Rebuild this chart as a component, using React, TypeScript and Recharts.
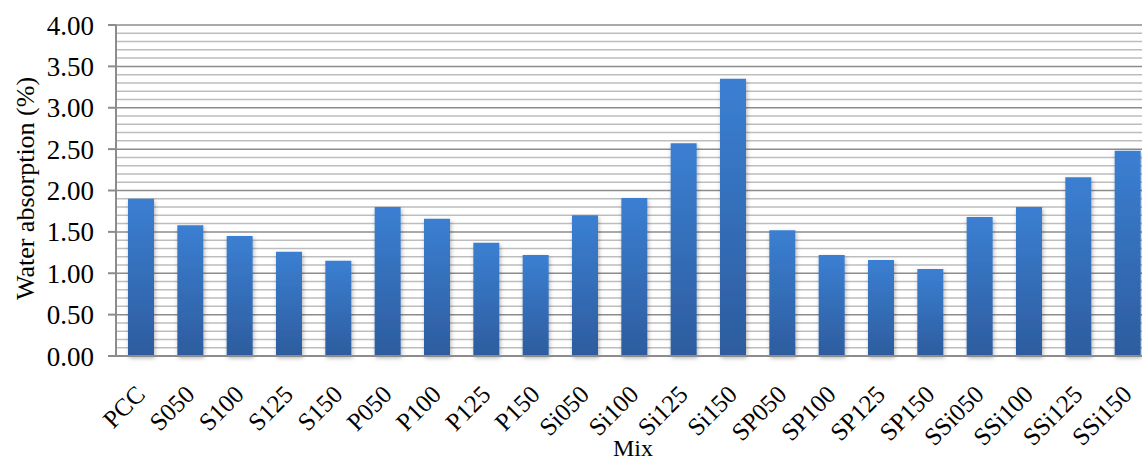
import { BarChart, Bar, XAxis, YAxis, CartesianGrid } from 'recharts';

const mixes = [
  'PCC', 'S050', 'S100', 'S125', 'S150', 'P050', 'P100', 'P125', 'P150',
  'Si050', 'Si100', 'Si125', 'Si150', 'SP050', 'SP100', 'SP125', 'SP150',
  'SSi050', 'SSi100', 'SSi125', 'SSi150',
];

const absorption = [
  1.90, 1.58, 1.45, 1.26, 1.15, 1.80, 1.66, 1.37, 1.22,
  1.70, 1.91, 2.57, 3.35, 1.52, 1.22, 1.16, 1.05,
  1.68, 1.80, 2.16, 2.48,
];

const majorTicks = [0, 0.5, 1, 1.5, 2, 2.5, 3, 3.5, 4];
const minorTicks = [
  0.1, 0.2, 0.3, 0.4, 0.6, 0.7, 0.8, 0.9, 1.1, 1.2, 1.3, 1.4, 1.6, 1.7, 1.8, 1.9,
  2.1, 2.2, 2.3, 2.4, 2.6, 2.7, 2.8, 2.9, 3.1, 3.2, 3.3, 3.4, 3.6, 3.7, 3.8, 3.9,
];

const data = mixes.map((mix, i) => ({ mix, value: absorption[i] }));

const font = '"Liberation Serif", "Times New Roman", serif';
const yMin = majorTicks[0];
const yMax = majorTicks[majorTicks.length - 1];

// minor gridlines sit on the same linear 0..4 scale as the y axis
const minorLines = ({ yAxis, offset }: any) => {
  if (yAxis && typeof yAxis.scale === 'function') return minorTicks.map((t) => yAxis.scale(t));
  return minorTicks.map((t) => offset.top + offset.height * (1 - (t - yMin) / (yMax - yMin)));
};

const MixTick = ({ x, y, payload }: any) => {
  const ax = x + 6;
  const ay = y + 32;
  return (
    <text
      x={ax}
      y={ay}
      textAnchor="end"
      fontFamily={font}
      fontSize={25}
      fill="#000"
      transform={`rotate(-45, ${ax}, ${ay})`}
    >
      {payload.value}
    </text>
  );
};

const YTitle = ({ viewBox }: any) => {
  const cx = 25;
  const cy = viewBox.y + viewBox.height / 2 - 2;
  return (
    <text
      x={cx}
      y={cy}
      textAnchor="middle"
      dominantBaseline="central"
      fontFamily={font}
      fontSize={26}
      fill="#000"
      transform={`rotate(-90, ${cx}, ${cy})`}
    >
      Water absorption (%)
    </text>
  );
};

const MixTitle = ({ viewBox }: any) => (
  <text x={viewBox.x + viewBox.width / 2 - 1} y={456} textAnchor="middle" fontFamily={font} fontSize={24} fill="#000">
    Mix
  </text>
);

export default function App() {
  return (
    <div style={{ position: 'absolute', left: 0, top: 0, width: 1142, height: 462, overflow: 'hidden', background: '#fff' }}>
      <BarChart
        width={1152}
        height={462}
        data={data}
        margin={{ top: 25, right: 0, bottom: 0, left: 0 }}
        barSize={26}
      >
        <defs>
          <linearGradient id="barFill" x1="0" y1="0" x2="0" y2="1">
            <stop offset="0%" stopColor="#3b7fd2" />
            <stop offset="100%" stopColor="#2d5c9e" />
          </linearGradient>
          <filter id="barShadow" x="-30%" y="-10%" width="160%" height="120%">
            <feDropShadow dx="1" dy="2" stdDeviation="2" floodColor="#000" floodOpacity="0.3" />
          </filter>
        </defs>
        <CartesianGrid
          vertical={false}
          stroke="#bdbdbd"
          strokeWidth={1.5}
          horizontalCoordinatesGenerator={minorLines}
        />
        <CartesianGrid vertical={false} stroke="#8c8c8c" strokeWidth={1.5} />
        <XAxis
          dataKey="mix"
          interval={0}
          height={106}
          tickLine={false}
          axisLine={{ stroke: '#8c8c8c', strokeWidth: 2 }}
          tick={<MixTick />}
          label={<MixTitle />}
        />
        <YAxis
          width={116}
          domain={[yMin, yMax]}
          ticks={majorTicks}
          interval={0}
          tickFormatter={(v: number) => v.toFixed(2)}
          tickSize={8}
          tickMargin={14}
          tickLine={{ stroke: '#8c8c8c', strokeWidth: 2 }}
          axisLine={{ stroke: '#8c8c8c', strokeWidth: 2 }}
          tick={{ fontFamily: font, fontSize: 27, fill: '#000' }}
          label={<YTitle />}
        />
        <Bar dataKey="value" fill="url(#barFill)" filter="url(#barShadow)" isAnimationActive={false} />
      </BarChart>
    </div>
  );
}
